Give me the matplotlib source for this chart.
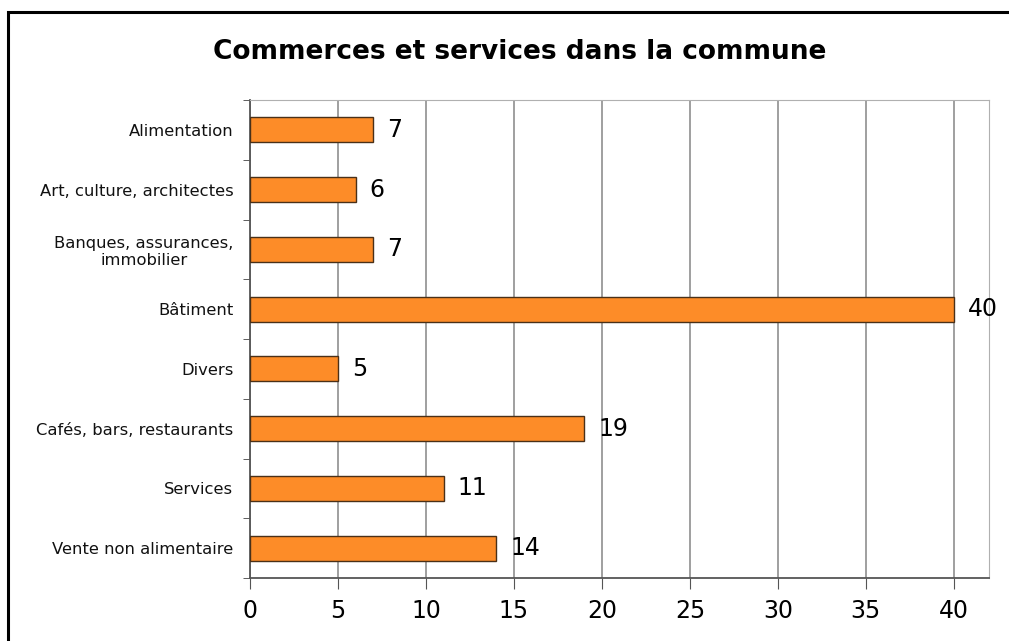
import matplotlib.pyplot as plt
from matplotlib.patches import Rectangle

# categories top to bottom, with counts
categories = ["Alimentation", "Art, culture, architectes",
              "Banques, assurances,\nimmobilier", "Bâtiment", "Divers",
              "Cafés, bars, restaurants", "Services", "Vente non alimentaire"]
counts = [7, 6, 7, 40, 5, 19, 11, 14]
xticks = [0, 5, 10, 15, 20, 25, 30, 35, 40]

W, H = 1009, 641
fig = plt.figure(figsize=(W / 100, H / 100), dpi=100)
fig.patch.set_facecolor("white")

# black frame, running off the right and bottom edges
fig.patches.append(Rectangle((8 / W, -0.1), 1.2, 1 - 12 / H + 0.1, transform=fig.transFigure,
                             fill=False, edgecolor="black", linewidth=2.2))

ax = fig.add_axes([250 / W, 1 - 578 / H, (989 - 250) / W, (578 - 100) / H])

pos = list(range(len(categories)))
ax.barh(pos, counts, height=0.42, color="#fd8c28", edgecolor="#4a3018", linewidth=1.0, zorder=3)

for y, v in zip(pos, counts):
    ax.annotate(str(v), (v, y), xytext=(10, 0), textcoords="offset points",
                va="center", ha="left", fontsize=17, color="black")

ax.set_ylim(len(categories) - 0.5, -0.5)
ax.set_xlim(0, 42)

ax.set_yticks(pos)
ax.set_yticklabels(categories, fontsize=11.8, color="#111111", multialignment="center")
ax.tick_params(axis="y", which="major", length=0, pad=12)
# tick marks between the categories
ax.set_yticks([p - 0.5 for p in pos] + [len(pos) - 0.5], minor=True)
ax.tick_params(axis="y", which="minor", length=5, color="#444444", direction="out")

ax.set_xticks(xticks)
ax.set_xticklabels([str(t) for t in xticks], fontsize=17)
ax.tick_params(axis="x", length=8, color="#555555", pad=7)

ax.grid(axis="x", color="#8f8f8f", linewidth=1.2, zorder=0)
ax.set_axisbelow(True)

ax.spines["left"].set_color("#555555")
ax.spines["bottom"].set_color("#555555")
ax.spines["left"].set_linewidth(1.3)
ax.spines["bottom"].set_linewidth(1.3)
ax.spines["top"].set_color("#b0b0b0")
ax.spines["right"].set_color("#b0b0b0")

fig.text(520 / W, 1 - 52 / H, "Commerces et services dans la commune",
         ha="center", va="center", fontsize=19, fontweight="bold")

fig.savefig("out.png", dpi=100)
